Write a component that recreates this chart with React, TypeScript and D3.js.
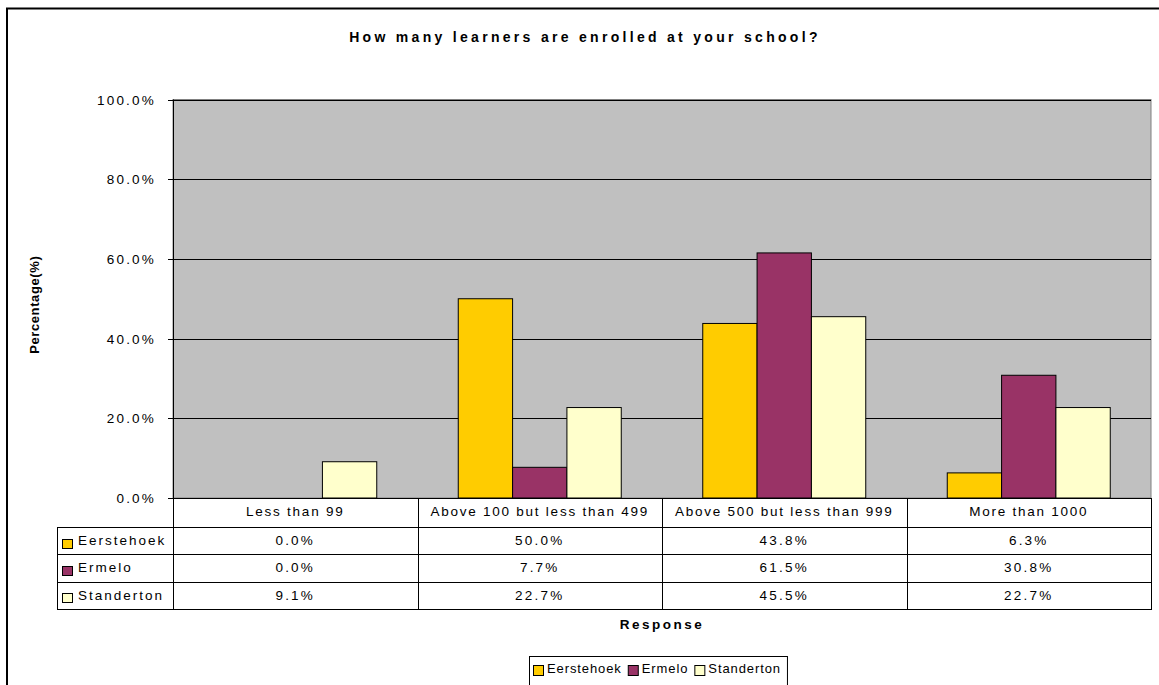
import React, { useEffect, useRef } from 'react';
import * as d3 from 'd3';

const chartTitle = 'How many learners are enrolled at your school?';
const yAxisTitle = 'Percentage(%)';
const xAxisTitle = 'Response';
const categories = [
  'Less than 99',
  'Above 100 but less than 499',
  'Above 500 but less than 999',
  'More than 1000',
];
const seriesNames = ['Eerstehoek', 'Ermelo', 'Standerton'];
const eerstehoek = [0.0, 50.0, 43.8, 6.3];
const ermelo = [0.0, 7.7, 61.5, 30.8];
const standerton = [9.1, 22.7, 45.5, 22.7];
const yTicks = [0, 20, 40, 60, 80, 100];
const seriesColors = ['#FFCC00', '#993366', '#FFFFCC'];

const W = 1159;
const H = 685;
const FONT = '"Liberation Sans", Arial, Helvetica, sans-serif';

export default function App() {
  const ref = useRef<SVGSVGElement | null>(null);

  useEffect(() => {
    const svg = d3.select(ref.current);
    svg.selectAll('*').remove();

    const seriesValues = [eerstehoek, ermelo, standerton];
    const left = 173;
    const right = 1151;
    const top = 99.5;
    const bottom = 498;

    const x = d3.scaleBand<string>().domain(categories).range([left, right]).paddingInner(0).paddingOuter(0);
    const xs = d3
      .scaleBand<string>()
      .domain(seriesNames)
      .range([0, x.bandwidth()])
      .paddingInner(0)
      .paddingOuter(0.75);
    const y = d3.scaleLinear().domain([0, 100]).range([bottom, top]);

    // outer chart border
    svg
      .append('rect')
      .attr('x', 7)
      .attr('y', 8.5)
      .attr('width', 1200)
      .attr('height', 800)
      .attr('fill', '#fff')
      .attr('stroke', '#000')
      .attr('stroke-width', 2);

    // title
    svg
      .append('text')
      .attr('x', 585)
      .attr('y', 41.5)
      .attr('text-anchor', 'middle')
      .attr('font-family', FONT)
      .attr('font-weight', 'bold')
      .attr('font-size', 14)
      .style('letter-spacing', '3.3px')
      .text(chartTitle);

    // plot area
    svg
      .append('rect')
      .attr('x', left)
      .attr('y', top)
      .attr('width', right - left)
      .attr('height', bottom - top)
      .attr('fill', '#C0C0C0')
      .attr('stroke', '#808080')
      .attr('stroke-width', 1);

    // gridlines
    svg
      .append('g')
      .selectAll('line')
      .data(yTicks.filter((t) => t > 0))
      .join('line')
      .attr('x1', left)
      .attr('x2', right)
      .attr('y1', (d) => Math.round(y(d)) + 0.5)
      .attr('y2', (d) => Math.round(y(d)) + 0.5)
      .attr('stroke', '#000')
      .attr('stroke-width', 1);

    // bars
    const groups = svg
      .append('g')
      .selectAll('g')
      .data(categories)
      .join('g')
      .attr('transform', (d) => `translate(${x(d)},0)`);
    groups
      .selectAll('rect')
      .data((_, i) =>
        seriesNames.map((s, j) => ({ s, j, v: seriesValues[j][i] })).filter((d) => d.v > 0)
      )
      .join('rect')
      .attr('x', (d) => xs(d.s)!)
      .attr('y', (d) => y(d.v))
      .attr('width', xs.bandwidth())
      .attr('height', (d) => bottom - y(d.v))
      .attr('fill', (d) => seriesColors[d.j])
      .attr('stroke', '#000')
      .attr('stroke-width', 1);

    // y axis
    const yAxis = svg.append('g');
    yAxis
      .append('line')
      .attr('x1', left + 0.5)
      .attr('x2', left + 0.5)
      .attr('y1', top)
      .attr('y2', bottom)
      .attr('stroke', '#000');
    const yt = yAxis.selectAll('g.tick').data(yTicks).join('g').attr('class', 'tick');
    yt.append('line')
      .attr('x1', 168)
      .attr('x2', left)
      .attr('y1', (d) => Math.round(y(d)) + 0.5)
      .attr('y2', (d) => Math.round(y(d)) + 0.5)
      .attr('stroke', '#000');
    yt.append('text')
      .attr('x', 156)
      .attr('y', (d) => y(d) + 5)
      .attr('text-anchor', 'end')
      .attr('font-family', FONT)
      .attr('font-size', 13.5)
      .style('letter-spacing', '2.2px')
      .text((d) => d3.format('.1f')(d) + '%');

    // y axis title
    svg
      .append('text')
      .attr('transform', `translate(39,${(top + bottom) / 2 + 6}) rotate(-90)`)
      .attr('text-anchor', 'middle')
      .attr('font-family', FONT)
      .attr('font-weight', 'bold')
      .attr('font-size', 13)
      .style('letter-spacing', '0.6px')
      .text(yAxisTitle);

    // data table
    const labelLeft = 57;
    const headerBottom = 527;
    const rowH = 27.3;
    const tableBottom = headerBottom + rowH * seriesNames.length;
    const tbl = svg.append('g');
    d3.range(seriesNames.length + 1).forEach((i) => {
      const yy = Math.round(headerBottom + i * rowH) + 0.5;
      tbl
        .append('line')
        .attr('x1', labelLeft)
        .attr('x2', right)
        .attr('y1', yy)
        .attr('y2', yy)
        .attr('stroke', '#000');
    });
    tbl
      .append('line')
      .attr('x1', left)
      .attr('x2', right)
      .attr('y1', bottom + 0.5)
      .attr('y2', bottom + 0.5)
      .attr('stroke', '#000');
    const vxs = [...categories.map((c) => x(c)!), right];
    vxs.forEach((vx) => {
      tbl
        .append('line')
        .attr('x1', Math.round(vx) + 0.5)
        .attr('x2', Math.round(vx) + 0.5)
        .attr('y1', bottom)
        .attr('y2', Math.round(tableBottom) + 1)
        .attr('stroke', '#000');
    });
    tbl
      .append('line')
      .attr('x1', labelLeft + 0.5)
      .attr('x2', labelLeft + 0.5)
      .attr('y1', headerBottom)
      .attr('y2', Math.round(tableBottom) + 1)
      .attr('stroke', '#000');

    tbl
      .selectAll('text.hdr')
      .data(categories)
      .join('text')
      .attr('class', 'hdr')
      .attr('x', (d) => x(d)! + x.bandwidth() / 2)
      .attr('y', 516)
      .attr('text-anchor', 'middle')
      .attr('font-family', FONT)
      .attr('font-size', 13.5)
      .style('letter-spacing', '1.75px')
      .text((d) => d);

    seriesNames.forEach((s, j) => {
      const cy = headerBottom + j * rowH + rowH / 2;
      tbl
        .append('rect')
        .attr('x', 62.5)
        .attr('y', Math.round(cy - 2) + 0.5)
        .attr('width', 10)
        .attr('height', 9)
        .attr('fill', seriesColors[j])
        .attr('stroke', '#000');
      tbl
        .append('text')
        .attr('x', 78)
        .attr('y', cy + 4.5)
        .attr('font-family', FONT)
        .attr('font-size', 13.5)
        .style('letter-spacing', '2px')
        .text(s);
      tbl
        .selectAll(`text.v${j}`)
        .data(seriesValues[j])
        .join('text')
        .attr('class', `v${j}`)
        .attr('x', (_, i) => x(categories[i])! + x.bandwidth() / 2)
        .attr('y', cy + 4.5)
        .attr('text-anchor', 'middle')
        .attr('font-family', FONT)
        .attr('font-size', 13.5)
        .style('letter-spacing', '2.2px')
        .text((d) => d3.format('.1f')(d) + '%');
    });

    // x axis title
    svg
      .append('text')
      .attr('x', (left + right) / 2)
      .attr('y', 628.5)
      .attr('text-anchor', 'middle')
      .attr('font-family', FONT)
      .attr('font-weight', 'bold')
      .attr('font-size', 13.5)
      .style('letter-spacing', '2.5px')
      .text(xAxisTitle);

    // legend
    const lg = svg.append('g');
    const lgBox = lg
      .append('rect')
      .attr('y', 656.5)
      .attr('height', 60)
      .attr('fill', '#fff')
      .attr('stroke', '#000');
    let cx = 0;
    const items = lg.append('g');
    seriesNames.forEach((s, j) => {
      items
        .append('rect')
        .attr('x', cx + 0.5)
        .attr('y', 665.5)
        .attr('width', 10)
        .attr('height', 10)
        .attr('fill', seriesColors[j])
        .attr('stroke', '#000');
      const t = items
        .append('text')
        .attr('x', cx + 14)
        .attr('y', 672.5)
        .attr('font-family', FONT)
        .attr('font-size', 13)
        .style('letter-spacing', '0.9px')
        .text(s);
      const w = (t.node() as SVGTextElement).getComputedTextLength();
      cx += 14 + w + 6;
    });
    const totalW = cx - 6;
    const startX = 533;
    items.attr('transform', `translate(${startX},0)`);
    lgBox.attr('x', startX - 3.5).attr('width', totalW + 10);
  }, []);

  return (
    <svg
      ref={ref}
      width={W}
      height={H}
      style={{ position: 'absolute', left: 0, top: 0, background: '#fff' }}
    />
  );
}
